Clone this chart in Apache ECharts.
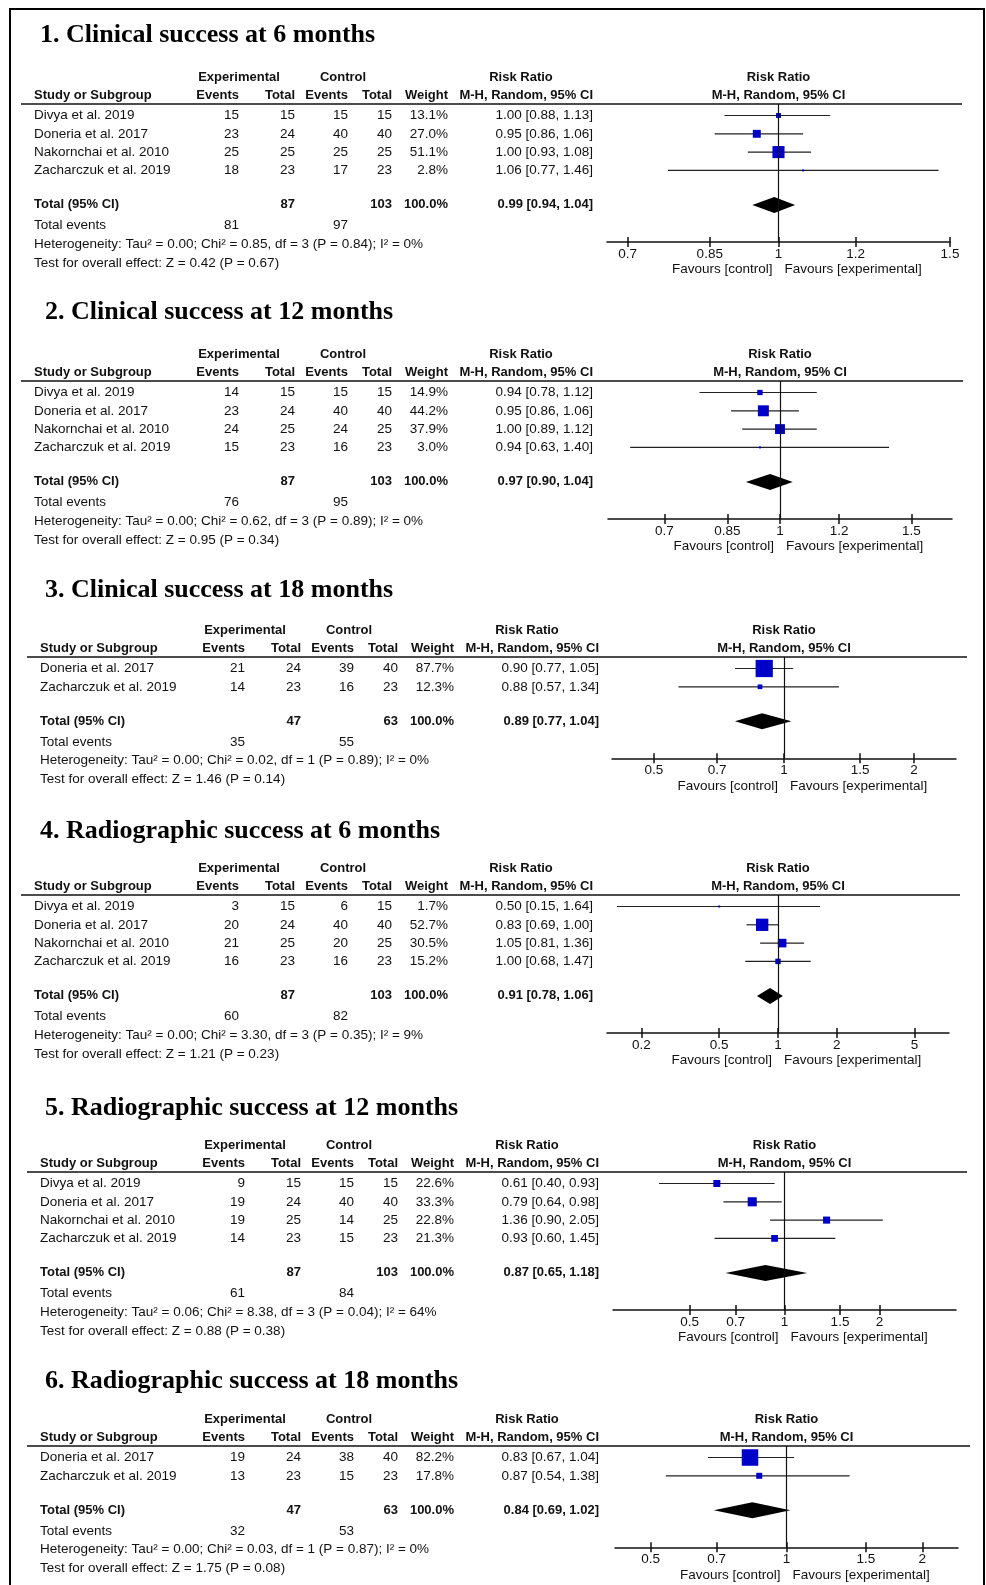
<!DOCTYPE html>
<html><head><meta charset="utf-8">
<script src="https://cdn.jsdelivr.net/npm/echarts@6/dist/echarts.min.js"></script>
<style>html,body{margin:0;padding:0;background:#fff}#c{width:986px;height:1585px}</style>
</head><body><div id="c"></div>
<script>
// ---------------- data ----------------
const panelTitles = [
  '1. Clinical success at 6 months',
  '2. Clinical success at 12 months',
  '3. Clinical success at 18 months',
  '4. Radiographic success at 6 months',
  '5. Radiographic success at 12 months',
  '6. Radiographic success at 18 months'
];
const studyNames = [
  ['Divya et al. 2019', 'Doneria et al. 2017', 'Nakornchai et al. 2010', 'Zacharczuk et al. 2019'],
  ['Divya et al. 2019', 'Doneria et al. 2017', 'Nakornchai et al. 2010', 'Zacharczuk et al. 2019'],
  ['Doneria et al. 2017', 'Zacharczuk et al. 2019'],
  ['Divya et al. 2019', 'Doneria et al. 2017', 'Nakornchai et al. 2010', 'Zacharczuk et al. 2019'],
  ['Divya et al. 2019', 'Doneria et al. 2017', 'Nakornchai et al. 2010', 'Zacharczuk et al. 2019'],
  ['Doneria et al. 2017', 'Zacharczuk et al. 2019']
];
const expEvents  = [[15, 23, 25, 18], [14, 23, 24, 15], [21, 14], [3, 20, 21, 16], [9, 19, 19, 14], [19, 13]];
const expTotal   = [[15, 24, 25, 23], [15, 24, 25, 23], [24, 23], [15, 24, 25, 23], [15, 24, 25, 23], [24, 23]];
const ctrlEvents = [[15, 40, 25, 17], [15, 40, 24, 16], [39, 16], [6, 40, 20, 16], [15, 40, 14, 15], [38, 15]];
const ctrlTotal  = [[15, 40, 25, 23], [15, 40, 25, 23], [40, 23], [15, 40, 25, 23], [15, 40, 25, 23], [40, 23]];
const weightPct  = [[13.1, 27.0, 51.1, 2.8], [14.9, 44.2, 37.9, 3.0], [87.7, 12.3], [1.7, 52.7, 30.5, 15.2], [22.6, 33.3, 22.8, 21.3], [82.2, 17.8]];
const riskRatio  = [[1.00, 0.95, 1.00, 1.06], [0.94, 0.95, 1.00, 0.94], [0.90, 0.88], [0.50, 0.83, 1.05, 1.00], [0.61, 0.79, 1.36, 0.93], [0.83, 0.87]];
const ciLower    = [[0.88, 0.86, 0.93, 0.77], [0.78, 0.86, 0.89, 0.63], [0.77, 0.57], [0.15, 0.69, 0.81, 0.68], [0.40, 0.64, 0.90, 0.60], [0.67, 0.54]];
const ciUpper    = [[1.13, 1.06, 1.08, 1.46], [1.12, 1.06, 1.12, 1.40], [1.05, 1.34], [1.64, 1.00, 1.36, 1.47], [0.93, 0.98, 2.05, 1.45], [1.04, 1.38]];
const totalExpN       = [87, 87, 47, 87, 87, 47];
const totalCtrlN      = [103, 103, 63, 103, 103, 63];
const totalExpEvents  = [81, 76, 35, 60, 61, 32];
const totalCtrlEvents = [97, 95, 55, 82, 84, 53];
const totalWeight     = [100.0, 100.0, 100.0, 100.0, 100.0, 100.0];
const pooledRR    = [0.99, 0.97, 0.89, 0.91, 0.87, 0.84];
const pooledLower = [0.94, 0.90, 0.77, 0.78, 0.65, 0.69];
const pooledUpper = [1.04, 1.04, 1.04, 1.06, 1.18, 1.02];
const heterogeneity = [
  'Heterogeneity: Tau² = 0.00; Chi² = 0.85, df = 3 (P = 0.84); I² = 0%',
  'Heterogeneity: Tau² = 0.00; Chi² = 0.62, df = 3 (P = 0.89); I² = 0%',
  'Heterogeneity: Tau² = 0.00; Chi² = 0.02, df = 1 (P = 0.89); I² = 0%',
  'Heterogeneity: Tau² = 0.00; Chi² = 3.30, df = 3 (P = 0.35); I² = 9%',
  'Heterogeneity: Tau² = 0.06; Chi² = 8.38, df = 3 (P = 0.04); I² = 64%',
  'Heterogeneity: Tau² = 0.00; Chi² = 0.03, df = 1 (P = 0.87); I² = 0%'
];
const overallEffect = [
  'Test for overall effect: Z = 0.42 (P = 0.67)',
  'Test for overall effect: Z = 0.95 (P = 0.34)',
  'Test for overall effect: Z = 1.46 (P = 0.14)',
  'Test for overall effect: Z = 1.21 (P = 0.23)',
  'Test for overall effect: Z = 0.88 (P = 0.38)',
  'Test for overall effect: Z = 1.75 (P = 0.08)'
];
const axisTicks = [[0.7, 0.85, 1, 1.2, 1.5], [0.7, 0.85, 1, 1.2, 1.5], [0.5, 0.7, 1, 1.5, 2], [0.2, 0.5, 1, 2, 5], [0.5, 0.7, 1, 1.5, 2], [0.5, 0.7, 1, 1.5, 2]];
const axisMax = [1.5, 1.7, 2.5, 7.5, 3.5, 2.4];   // axis runs from 1/max to max

// ---------------- layout ----------------
const layout = [
  {lineY: 104,  titleX: 40, titleY: 35.5,   dx: 0, plotL: 607, plotR: 950, lineR: 962},
  {lineY: 381,  titleX: 45, titleY: 312.5,  dx: 0, plotL: 608, plotR: 952, lineR: 963},
  {lineY: 657,  titleX: 45, titleY: 590.5,  dx: 6, plotL: 612, plotR: 956, lineR: 967},
  {lineY: 895,  titleX: 40, titleY: 831,    dx: 0, plotL: 607, plotR: 949, lineR: 960},
  {lineY: 1172, titleX: 45, titleY: 1108,   dx: 6, plotL: 613, plotR: 956, lineR: 967},
  {lineY: 1446, titleX: 45, titleY: 1381.5, dx: 6, plotL: 615, plotR: 958, lineR: 970}
];
const ROW_H = 18.3;
const FONT = '"Liberation Sans", Arial, sans-serif';
const TXT = '#111';
const COL = {study: 34, expEv: 239, expTot: 295, ctlEv: 348, ctlTot: 392, weight: 448, rr: 593, expHdr: 239, ctlHdr: 343, rrHdr: 521};

const graphics = [];
function txt(x, y, s, align, bold) {
  graphics.push({
    type: 'text', x: x, y: y, silent: true, z: 10,
    style: {text: s, font: (bold ? 'bold 13px ' : '13.5px ') + FONT, fill: TXT,
            align: align, textAlign: align, verticalAlign: 'middle', textVerticalAlign: 'middle'}
  });
}
const fmtRR = (r, l, h) => r.toFixed(2) + ' [' + l.toFixed(2) + ', ' + h.toFixed(2) + ']';

graphics.push({type: 'polyline', silent: true, shape: {points: [[10, 1600], [10, 9], [984, 9], [984, 1600]]},
  style: {stroke: '#000', lineWidth: 2, fill: null}});

const grids = [], xAxes = [], yAxes = [], series = [];

layout.forEach((L, p) => {
  const dx = L.dx, n = studyNames[p].length;
  const row0 = L.lineY + 11.5;
  const rowY = i => row0 + i * ROW_H;
  const totalY = rowY(n - 1) + 34.5;
  const eventsY = totalY + 20.5, hetY = eventsY + 18.8, testY = hetY + 18.8;
  const axisY = totalY + 37;
  const cx = (L.plotL + L.plotR) / 2;

  // title
  graphics.push({type: 'text', x: L.titleX, y: L.titleY, silent: true,
    style: {text: panelTitles[p], font: 'bold 26px "Liberation Serif", "Times New Roman", serif', fill: '#000',
            align: 'left', textAlign: 'left', verticalAlign: 'middle', textVerticalAlign: 'middle'}});
  // table headers
  const h1 = L.lineY - 27, h2 = L.lineY - 8.5;
  txt(COL.expHdr + dx, h1, 'Experimental', 'center', true);
  txt(COL.ctlHdr + dx, h1, 'Control', 'center', true);
  txt(COL.rrHdr + dx, h1, 'Risk Ratio', 'center', true);
  txt(COL.study + dx, h2, 'Study or Subgroup', 'left', true);
  txt(COL.expEv + dx, h2, 'Events', 'right', true);
  txt(COL.expTot + dx, h2, 'Total', 'right', true);
  txt(COL.ctlEv + dx, h2, 'Events', 'right', true);
  txt(COL.ctlTot + dx, h2, 'Total', 'right', true);
  txt(COL.weight + dx, h2, 'Weight', 'right', true);
  txt(COL.rr + dx, h2, 'M-H, Random, 95% CI', 'right', true);
  txt(cx, h1, 'Risk Ratio', 'center', true);
  txt(cx, h2, 'M-H, Random, 95% CI', 'center', true);
  graphics.push({type: 'line', silent: true, shape: {x1: 21 + dx, y1: L.lineY, x2: L.lineR, y2: L.lineY},
    style: {stroke: '#111', lineWidth: 1.3}});
  // study rows
  studyNames[p].forEach((nm, i) => {
    const y = rowY(i);
    txt(COL.study + dx, y, nm, 'left');
    txt(COL.expEv + dx, y, String(expEvents[p][i]), 'right');
    txt(COL.expTot + dx, y, String(expTotal[p][i]), 'right');
    txt(COL.ctlEv + dx, y, String(ctrlEvents[p][i]), 'right');
    txt(COL.ctlTot + dx, y, String(ctrlTotal[p][i]), 'right');
    txt(COL.weight + dx, y, weightPct[p][i].toFixed(1) + '%', 'right');
    txt(COL.rr + dx, y, fmtRR(riskRatio[p][i], ciLower[p][i], ciUpper[p][i]), 'right');
  });
  // totals
  txt(COL.study + dx, totalY, 'Total (95% CI)', 'left', true);
  txt(COL.expTot + dx, totalY, String(totalExpN[p]), 'right', true);
  txt(COL.ctlTot + dx, totalY, String(totalCtrlN[p]), 'right', true);
  txt(COL.weight + dx, totalY, totalWeight[p].toFixed(1) + '%', 'right', true);
  txt(COL.rr + dx, totalY, fmtRR(pooledRR[p], pooledLower[p], pooledUpper[p]), 'right', true);
  txt(COL.study + dx, eventsY, 'Total events', 'left');
  txt(COL.expEv + dx, eventsY, String(totalExpEvents[p]), 'right');
  txt(COL.ctlEv + dx, eventsY, String(totalCtrlEvents[p]), 'right');
  txt(COL.study + dx, hetY, heterogeneity[p], 'left');
  txt(COL.study + dx, testY, overallEffect[p], 'left');
  // favours labels
  txt(cx - 6, axisY + 27.5, 'Favours [control]', 'right');
  txt(cx + 6, axisY + 27.5, 'Favours [experimental]', 'left');

  // plot
  grids.push({left: L.plotL, top: L.lineY, width: L.plotR - L.plotL, height: axisY - L.lineY,
              containLabel: false, outerBoundsMode: 'none'});
  yAxes.push({gridIndex: p, type: 'value', inverse: true, show: false,
              min: -11.5 / ROW_H, max: (axisY - L.lineY - 11.5) / ROW_H});
  const base = {gridIndex: p, type: 'log', logBase: 10, min: 1 / axisMax[p], max: axisMax[p],
                position: 'bottom', splitLine: {show: false}, minorTick: {show: false}};
  xAxes.push(Object.assign({}, base, {
    axisLine: {show: true, onZero: false, lineStyle: {color: '#111', width: 1.5}},
    axisTick: {show: true, customValues: axisTicks[p], length: 5, inside: false, lineStyle: {color: '#111', width: 1.5}},
    axisLabel: {show: true, customValues: axisTicks[p], margin: 5, color: TXT, fontFamily: FONT, fontSize: 13.5,
                formatter: v => String(Math.round(v * 1000) / 1000)}
  }));
  xAxes.push(Object.assign({}, base, {
    axisLine: {show: false, onZero: false},
    axisTick: {show: true, customValues: axisTicks[p], length: 5, inside: true, lineStyle: {color: '#111', width: 1.5}},
    axisLabel: {show: false}
  }));
  const totalIdx = (totalY - row0) / ROW_H;
  // CI whiskers + line of no effect
  series.push({
    type: 'custom', xAxisIndex: 2 * p, yAxisIndex: p, z: 2, silent: true,
    encode: {x: [0, 1], y: 2},
    data: studyNames[p].map((_, i) => [ciLower[p][i], ciUpper[p][i], i]),
    renderItem: (params, api) => {
      const a = api.coord([api.value(0), api.value(2)]);
      const b = api.coord([api.value(1), api.value(2)]);
      return {type: 'line', shape: {x1: a[0], y1: a[1], x2: b[0], y2: b[1]},
              style: {stroke: '#222', lineWidth: 1.2}};
    },
    markLine: {silent: true, symbol: 'none', label: {show: false},
               lineStyle: {color: '#111', width: 1.2, type: 'solid'}, data: [{xAxis: 1}]}
  });
  // study squares (size grows with study weight)
  series.push({
    type: 'scatter', xAxisIndex: 2 * p, yAxisIndex: p, z: 3, silent: true,
    symbol: 'rect',
    symbolSize: v => Math.max(2, 0.9 * Math.pow(v[2], 0.66)),
    itemStyle: {color: '#0000c8', opacity: 1},
    data: studyNames[p].map((_, i) => [riskRatio[p][i], i, weightPct[p][i]])
  });
  // pooled diamond
  series.push({
    type: 'custom', xAxisIndex: 2 * p, yAxisIndex: p, z: 4, silent: true,
    encode: {x: [0, 1, 2], y: 3},
    data: [[pooledRR[p], pooledLower[p], pooledUpper[p], totalIdx]],
    renderItem: (params, api) => {
      const c = api.coord([api.value(0), api.value(3)]);
      const l = api.coord([api.value(1), api.value(3)]);
      const r = api.coord([api.value(2), api.value(3)]);
      return {type: 'polygon', shape: {points: [[l[0], c[1]], [c[0], c[1] - 8], [r[0], c[1]], [c[0], c[1] + 8]]},
              style: {fill: '#000'}};
    }
  });
});

const chart = echarts.init(document.getElementById('c'), null, {renderer: 'canvas'});
chart.setOption({
  backgroundColor: '#fff',
  animation: false,
  grid: grids,
  xAxis: xAxes,
  yAxis: yAxes,
  series: series,
  graphic: {elements: graphics}
});
</script>
</body></html>
